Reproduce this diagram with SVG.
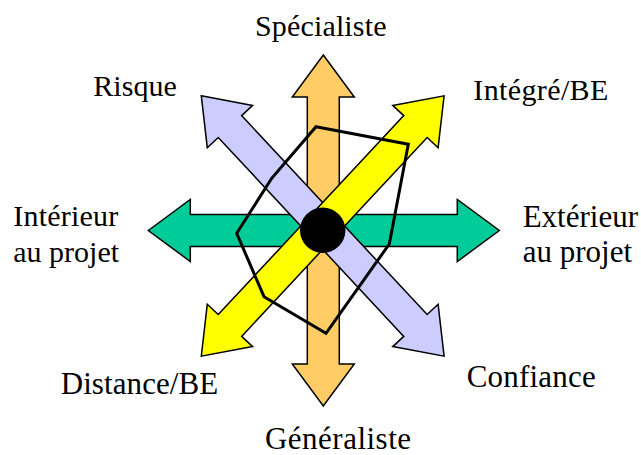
<svg xmlns="http://www.w3.org/2000/svg" width="641" height="455" viewBox="0 0 641 455">
<defs>
<style>
.arrow{stroke:#000;stroke-width:1.5;stroke-linejoin:miter}
.lbl{font-family:'Liberation Serif','Times New Roman',Tinos,'Noto Serif','DejaVu Serif',serif;font-size:30px;fill:#000}
.big{font-size:31px}
</style>
<polygon id="dbl175" points="-175.5,0 -133.5,-31 -133.5,-16 133.5,-16 133.5,-31 175.5,0 133.5,31 133.5,16 -133.5,16 -133.5,31"/>
<polygon id="dbl178" points="-178,0 -136,-31 -136,-16 136,-16 136,-31 178,0 136,31 136,16 -136,16 -136,31"/>
</defs>
<rect width="641" height="455" fill="#fff"/>
<g id="connectors">
<g id="axis-vertical"><use href="#dbl175" class="arrow" fill="#FFCC66" transform="translate(323.3,230.5) rotate(90)"/></g>
<g id="axis-horizontal"><use href="#dbl175" class="arrow" fill="#00CC99" transform="translate(323.8,230.5)"/></g>
<g id="axis-risque"><use href="#dbl178" class="arrow" fill="#CCCCFF" transform="translate(322.7,226) rotate(47)"/></g>
<g id="axis-integre"><use href="#dbl178" class="arrow" fill="#FFFF00" transform="translate(322.7,226) rotate(-47)"/></g>
<g id="profile"><polygon points="316,126.7 408.3,144.3 389.3,244 326,333.3 264,296.7 236.7,233.3 271.7,178.3" fill="none" stroke="#000" stroke-width="3" stroke-linejoin="miter"/></g>
</g>
<g id="center"><circle cx="322.7" cy="230.3" r="22.7" fill="#000"/></g>
<g id="n-specialiste"><text class="lbl" x="255" y="35.5" textLength="131.5">Spécialiste</text></g>
<g id="n-risque"><text class="lbl" x="93.3" y="96" textLength="83.5">Risque</text></g>
<g id="n-integre"><text class="lbl" x="473.3" y="99.8" textLength="135">Intégré/BE</text></g>
<g id="n-interieur"><text class="lbl" x="13.3" y="226" textLength="105">Intérieur</text><text class="lbl" x="13.3" y="261.5">au projet</text></g>
<g id="n-exterieur"><text class="lbl big" x="522.7" y="226.5">Extérieur</text><text class="lbl big" x="522.7" y="261.5">au projet</text></g>
<g id="n-distance"><text class="lbl big" x="60.7" y="394.3" textLength="157.5">Distance/BE</text></g>
<g id="n-confiance"><text class="lbl big" x="466.7" y="387.3" textLength="129">Confiance</text></g>
<g id="n-generaliste"><text class="lbl big" x="265" y="449.3" textLength="146">Généraliste</text></g>
</svg>
